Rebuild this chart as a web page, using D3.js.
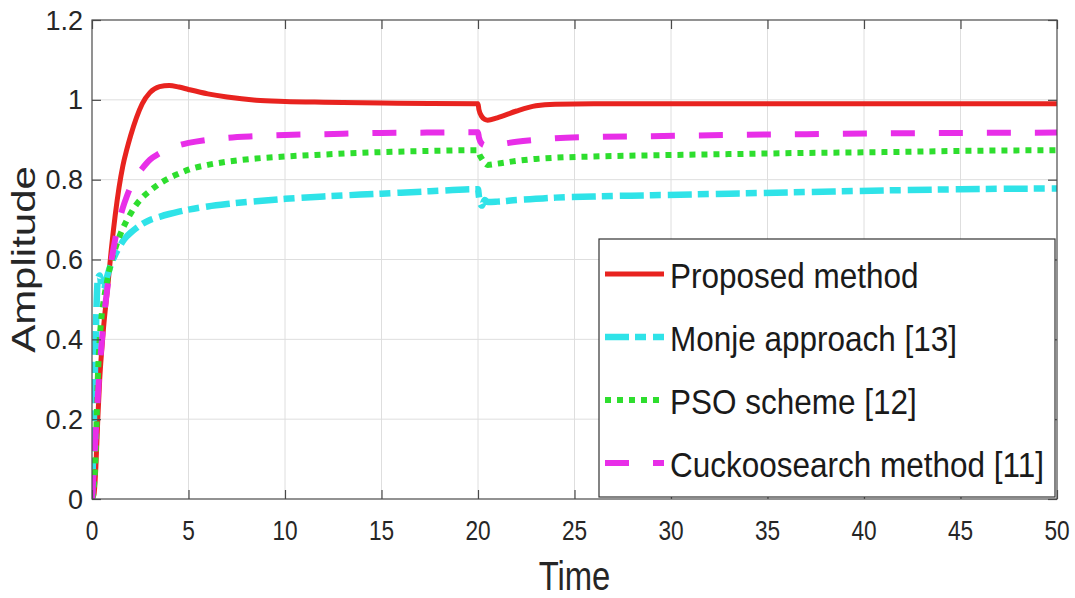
<!DOCTYPE html>
<html>
<head>
<meta charset="utf-8">
<script src="https://cdn.jsdelivr.net/npm/d3@7"></script>
<style>
  html, body { margin: 0; padding: 0; background: #fff; }
  svg { display: block; font-family: "Liberation Sans", Arial, Helvetica, sans-serif; }
</style>
</head>
<body>
<svg id="chart" width="1075" height="598"></svg>
<script>
// Sample times (s) shared by every response
const time = [0, 0.1, 0.2, 0.3, 0.4, 0.5, 0.6, 0.8, 1.0, 1.2, 1.4, 1.6, 1.8, 2.0,
  2.3, 2.6, 3.0, 3.5, 4.0, 4.5, 5, 6, 7, 8.5, 10, 12, 15, 17.5,
  20, 20.05, 20.2, 20.35, 20.5, 21, 22, 23, 24, 26, 29, 33, 37, 41, 45, 50];

// Step responses of each tuning method
const proposed = [0, 0.01, 0.08, 0.2, 0.3, 0.37, 0.43, 0.525, 0.625, 0.71, 0.78, 0.835, 0.875, 0.91,
  0.955, 0.99, 1.018, 1.033, 1.036, 1.032, 1.026, 1.015, 1.007, 0.999, 0.996, 0.994, 0.992, 0.991,
  0.99, 0.975, 0.958, 0.951, 0.949, 0.955, 0.972, 0.985, 0.989, 0.99, 0.99, 0.99, 0.99, 0.99, 0.99, 0.99];
const monje = [0, 0.2, 0.42, 0.55, 0.56, 0.53, 0.525, 0.56, 0.59, 0.612, 0.63, 0.646, 0.658, 0.667,
  0.679, 0.689, 0.699, 0.707, 0.714, 0.72, 0.725, 0.733, 0.739, 0.746, 0.752, 0.758, 0.765, 0.771,
  0.776, 0.757, 0.735, 0.749, 0.744, 0.745, 0.749, 0.752, 0.755, 0.758, 0.761, 0.765, 0.769, 0.773, 0.776, 0.778];
const pso = [0, 0.03, 0.13, 0.3, 0.4, 0.46, 0.495, 0.55, 0.595, 0.627, 0.655, 0.678, 0.698, 0.715,
  0.738, 0.755, 0.772, 0.79, 0.804, 0.815, 0.825, 0.837, 0.845, 0.853, 0.858, 0.863, 0.869, 0.872,
  0.874, 0.866, 0.852, 0.842, 0.837, 0.84, 0.847, 0.852, 0.855, 0.858, 0.861, 0.864, 0.867, 0.869, 0.872, 0.874];
const cuckoo = [0, 0.08, 0.17, 0.255, 0.33, 0.39, 0.445, 0.53, 0.595, 0.65, 0.695, 0.73, 0.758, 0.782,
  0.808, 0.828, 0.85, 0.866, 0.878, 0.886, 0.892, 0.9, 0.905, 0.909, 0.912, 0.914, 0.917, 0.918,
  0.919, 0.905, 0.89, 0.886, 0.885, 0.888, 0.895, 0.9, 0.904, 0.907, 0.909, 0.912, 0.914, 0.916, 0.917, 0.918];

const seriesNames = ["Proposed method", "Monje approach [13]", "PSO scheme [12]", "Cuckoosearch method [11]"];
const xTicks = [0, 5, 10, 15, 20, 25, 30, 35, 40, 45, 50];
const yTicks = [0, 0.2, 0.4, 0.6, 0.8, 1, 1.2];

const styles = [
  { color: "#e8231f", width: 5,   dash: null },
  { color: "#2fe3e8", width: 6.5, dash: "24,6,11,7" },
  { color: "#2ede2e", width: 6,   dash: "6,6" },
  { color: "#e82ee8", width: 6,   dash: "24,24" }
];
const allValues = [proposed, monje, pso, cuckoo];

const svg = d3.select("#chart");
const W = 1075, H = 598;
const plot = { left: 92, right: 1057, top: 20, bottom: 499 };

svg.append("rect").attr("width", W).attr("height", H).attr("fill", "#ffffff");

const x = d3.scaleLinear().domain([0, 50]).range([plot.left, plot.right]);
const y = d3.scaleLinear().domain([0, 1.2]).range([plot.bottom, plot.top]);

const textColor = "#262626";
const axisColor = "#4a4a4a";

// grid
const grid = svg.append("g");
grid.selectAll(".gx").data(xTicks.slice(1, -1)).join("line")
  .attr("x1", d => x(d)).attr("x2", d => x(d))
  .attr("y1", plot.top).attr("y2", plot.bottom)
  .attr("stroke", "#dedede").attr("stroke-width", 1);
grid.selectAll(".gy").data(yTicks.slice(1, -1)).join("line")
  .attr("y1", d => y(d)).attr("y2", d => y(d))
  .attr("x1", plot.left).attr("x2", plot.right)
  .attr("stroke", "#dedede").attr("stroke-width", 1);

// curves
const line = d3.line()
  .x((d, i) => x(time[i]))
  .y(d => y(d))
  .curve(d3.curveMonotoneX);

const clip = svg.append("clipPath").attr("id", "plotclip")
  .append("rect").attr("x", plot.left).attr("y", plot.top)
  .attr("width", plot.right - plot.left).attr("height", plot.bottom - plot.top);

const curves = svg.append("g").attr("clip-path", "url(#plotclip)");
allValues.forEach((vals, k) => {
  curves.append("path")
    .datum(vals)
    .attr("d", line)
    .attr("fill", "none")
    .attr("stroke", styles[k].color)
    .attr("stroke-width", styles[k].width)
    .attr("stroke-linejoin", "round")
    .attr("stroke-dasharray", styles[k].dash);
});

// axes box with inward ticks on all four sides
const tickLen = 9;
const axes = svg.append("g").attr("stroke", axisColor).attr("stroke-width", 1.2);
axes.append("rect")
  .attr("x", plot.left).attr("y", plot.top)
  .attr("width", plot.right - plot.left).attr("height", plot.bottom - plot.top)
  .attr("fill", "none");
const xAxisB = d3.axisBottom(x).tickValues(xTicks).tickSizeInner(-tickLen).tickSizeOuter(0).tickFormat("");
const xAxisT = d3.axisTop(x).tickValues(xTicks).tickSizeInner(-tickLen).tickSizeOuter(0).tickFormat("");
const yAxisL = d3.axisLeft(y).tickValues(yTicks).tickSizeInner(-tickLen).tickSizeOuter(0).tickFormat("");
const yAxisR = d3.axisRight(y).tickValues(yTicks).tickSizeInner(-tickLen).tickSizeOuter(0).tickFormat("");
[[xAxisB, `translate(0,${plot.bottom})`], [xAxisT, `translate(0,${plot.top})`],
 [yAxisL, `translate(${plot.left},0)`], [yAxisR, `translate(${plot.right},0)`]].forEach(([ax, tr]) => {
  const g = svg.append("g").attr("transform", tr).call(ax);
  g.select(".domain").remove();
  g.selectAll("line").attr("stroke", axisColor).attr("stroke-width", 1.2);
});

// tick labels
svg.append("g").selectAll("text").data(xTicks).join("text")
  .attr("transform", d => `translate(${x(d)},540) scale(0.81,1)`)
  .attr("text-anchor", "middle")
  .attr("font-size", 28)
  .attr("fill", textColor)
  .text(d => d);

svg.append("g").selectAll("text").data(yTicks).join("text")
  .attr("transform", d => `translate(83,${y(d) + 9.5})`)
  .attr("text-anchor", "end")
  .attr("font-size", 27)
  .attr("fill", textColor)
  .text(d => d);

// axis titles
svg.append("text")
  .attr("transform", `translate(${(plot.left + plot.right) / 2},590) scale(0.8,1)`)
  .attr("text-anchor", "middle")
  .attr("font-size", 41)
  .attr("fill", textColor)
  .text("Time");

svg.append("text")
  .attr("transform", `translate(35,${(plot.top + plot.bottom) / 2}) rotate(-90) scale(1,0.77)`)
  .attr("text-anchor", "middle")
  .attr("font-size", 42)
  .attr("fill", textColor)
  .text("Amplitude");

// legend
const leg = svg.append("g");
leg.append("rect")
  .attr("x", 599).attr("y", 239).attr("width", 456).attr("height", 258)
  .attr("fill", "#ffffff").attr("stroke", "#333").attr("stroke-width", 1.2);
seriesNames.forEach((name, i) => {
  const base = 288 + i * 63;
  leg.append("line")
    .attr("x1", 605).attr("x2", 664)
    .attr("y1", base - 14).attr("y2", base - 14)
    .attr("stroke", styles[i].color)
    .attr("stroke-width", styles[i].width)
    .attr("stroke-dasharray", styles[i].dash);
  leg.append("text")
    .attr("transform", `translate(670,${base}) scale(0.9,1)`)
    .attr("font-size", 35)
    .attr("fill", "#1a1a1a")
    .text(name);
});
</script>
</body>
</html>
